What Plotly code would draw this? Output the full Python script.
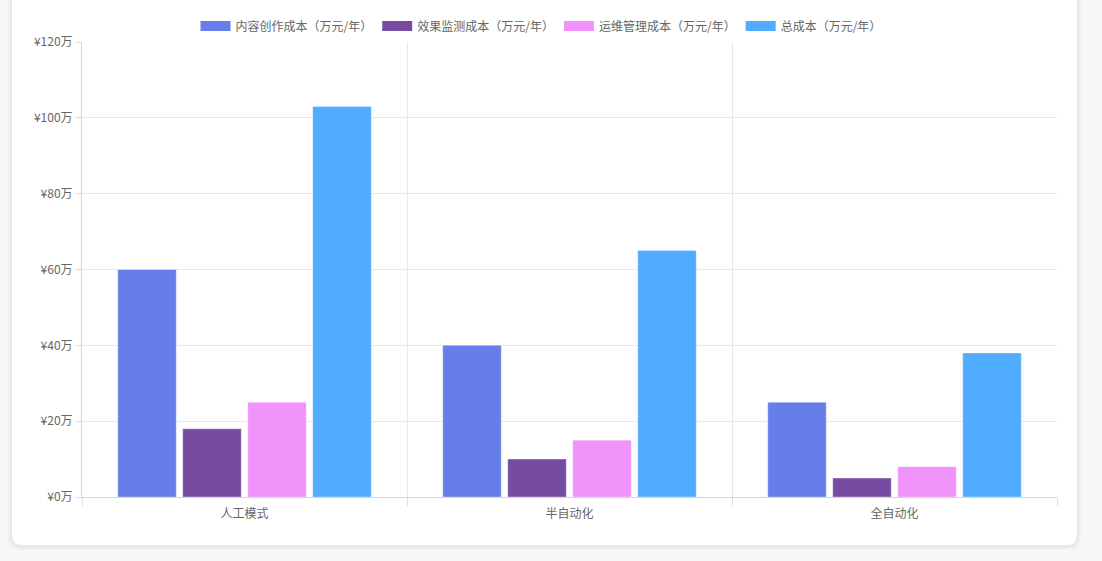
import plotly.graph_objects as go

categories = ["人工模式", "半自动化", "全自动化"]
series_names = ["内容创作成本（万元/年）", "效果监测成本（万元/年）", "运维管理成本（万元/年）", "总成本（万元/年）"]
content_cost = [60, 40, 25]
monitor_cost = [18, 10, 5]
ops_cost = [25, 15, 8]
total_cost = [103, 65, 38]
colors = ["#667eea", "#764ba2", "#f093fb", "#4facfe"]

W, H = 1102, 561
L, R, T, B = 82, 45, 42, 64
pw, ph = W - L - R, H - T - B


def px_x(x):
    return (x - L) / pw


def px_y(y):
    return (H - B - y) / ph


def rounded(x0, y0, x1, y1, r):
    # rounded rectangle path in paper coords from pixel box
    a, b, c, d = px_x(x0), px_y(y1), px_x(x1), px_y(y0)
    rx, ry = r / pw, r / ph
    return (f"M{a+rx},{b} L{c-rx},{b} Q{c},{b} {c},{b+ry} L{c},{d-ry} Q{c},{d} {c-rx},{d} "
            f"L{a+rx},{d} Q{a},{d} {a},{d-ry} L{a},{b+ry} Q{a},{b} {a+rx},{b} Z")


fig = go.Figure()
for name, vals, col in zip(series_names, [content_cost, monitor_cost, ops_cost, total_cost], colors):
    fig.add_trace(go.Bar(x=categories, y=vals, name=name, legendgroup=name, showlegend=False,
                         marker=dict(color=col, line=dict(color="rgba(255,255,255,0.35)", width=1))))
# wide legend swatches like chart.js boxes
for name, col in zip(series_names, colors):
    fig.add_trace(go.Scatter(x=[None], y=[None], mode="lines", name=name, legendgroup=name,
                             line=dict(color=col, width=12)))

shapes = []
# card shadow + card
for i, c in enumerate(["rgba(0,0,0,0.025)", "rgba(0,0,0,0.035)"]):
    g = 4 - 2 * i
    shapes.append(dict(type="path", xref="paper", yref="paper", layer="below",
                       path=rounded(12 - g, -20, 1077 + g, 545 + g + 1, 12),
                       fillcolor=c, line=dict(width=0)))
shapes.append(dict(type="path", xref="paper", yref="paper", layer="below",
                   path=rounded(12, -20, 1077, 545, 10),
                   fillcolor="white", line=dict(width=0)))

fig.update_layout(
    width=W, height=H,
    margin=dict(l=L, r=R, t=T, b=B),
    paper_bgcolor="#f7f7f8", plot_bgcolor="rgba(0,0,0,0)",
    font=dict(family="Noto Sans CJK SC, Noto Sans, sans-serif", size=12, color="#666"),
    barmode="group", bargap=0.2, bargroupgap=0.1,
    showlegend=True,
    legend=dict(orientation="h", x=px_x(541), xanchor="center", y=px_y(26), yanchor="middle",
                font=dict(size=12, color="#666"), itemwidth=30, bgcolor="rgba(0,0,0,0)"),
    shapes=shapes,
)
fig.update_xaxes(type="category", tickson="boundaries", showgrid=True, gridcolor="#e8e8e8",
                 showline=True, linecolor="#d6d6d6", ticks="outside", ticklen=8, tickcolor="#e0e0e0",
                 ticklabelstandoff=6, tickfont=dict(size=12, color="#666"))
fig.update_yaxes(range=[0, 120], dtick=20, tickprefix="¥", ticksuffix="万", showgrid=True,
                 gridcolor="#e8e8e8", showline=True, linecolor="#d6d6d6", ticks="outside", ticklen=6,
                 tickcolor="#e0e0e0", zeroline=False, tickfont=dict(size=12, color="#666"))

fig.write_html("out.html", config={"displayModeBar": False},
               post_script="document.body.style.margin='0';")
